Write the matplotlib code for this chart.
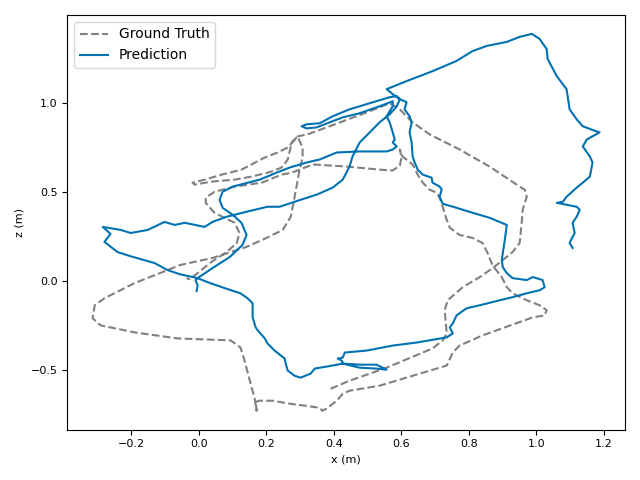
import matplotlib
matplotlib.use('Agg')
import matplotlib.pyplot as plt
import numpy as np

# ground truth trajectory (x, z) in metres
gt_x = [0.391, 0.447, 0.557, 0.693, 0.723, 0.735, 0.729, 0.738, 0.782, 0.833,
        0.871, 0.901, 0.930, 0.951, 0.957, 0.960, 0.972, 0.966, 0.951, 0.862,
        0.773, 0.684, 0.634, 0.596, 0.566, 0.498, 0.388, 0.323, 0.293, 0.264,
        0.234, 0.196, 0.127, 0.068, 0.018, -0.018, -0.012, 0.039, 0.107, 0.157,
        0.216, 0.246, 0.264, 0.276, 0.293, 0.308, 0.308, 0.299, 0.290, 0.284,
        0.273, 0.249, 0.201, 0.142, 0.041, -0.056, -0.092, -0.190, -0.279, -0.308,
        -0.314, -0.290, -0.190, -0.062, 0.095, 0.124, 0.136, 0.154, 0.166, 0.172,
        0.169, 0.181, 0.219, 0.270, 0.320, 0.359, 0.367, 0.382, 0.409, 0.427,
        0.447, 0.536, 0.735, 0.753, 0.773, 0.841, 0.990, 1.025, 1.031, 1.010,
        0.972, 0.930, 0.913, 0.898, 0.877, 0.868, 0.856, 0.841, 0.812, 0.773,
        0.744, 0.735, 0.723, 0.714, 0.705, 0.684, 0.664, 0.649, 0.634, 0.604,
        0.596, 0.601, 0.596, 0.575, 0.536, 0.441, 0.338, 0.276, 0.246, 0.187,
        0.107, 0.047, 0.021, 0.021, 0.047, 0.107, 0.121, 0.113, 0.083, 0.033,
        -0.003, -0.027, -0.036]
gt_z = [-0.603, -0.558, -0.485, -0.377, -0.332, -0.293, -0.163, -0.107, -0.034, 0.023,
        0.073, 0.118, 0.163, 0.214, 0.327, 0.400, 0.473, 0.513, 0.530, 0.642,
        0.738, 0.823, 0.890, 0.963, 0.997, 0.946, 0.868, 0.823, 0.811, 0.749,
        0.721, 0.693, 0.625, 0.597, 0.569, 0.552, 0.541, 0.558, 0.569, 0.586,
        0.614, 0.637, 0.682, 0.777, 0.811, 0.749, 0.693, 0.625, 0.530, 0.468,
        0.361, 0.287, 0.242, 0.192, 0.130, 0.090, 0.062, -0.011, -0.096, -0.135,
        -0.208, -0.248, -0.287, -0.321, -0.332, -0.372, -0.445, -0.575, -0.659, -0.727,
        -0.676, -0.670, -0.670, -0.687, -0.699, -0.710, -0.727, -0.710, -0.670, -0.631,
        -0.614, -0.586, -0.473, -0.400, -0.361, -0.304, -0.203, -0.192, -0.163, -0.135,
        -0.107, -0.068, -0.034, 0.023, 0.073, 0.101, 0.158, 0.214, 0.242, 0.259,
        0.299, 0.344, 0.417, 0.468, 0.496, 0.513, 0.552, 0.597, 0.654, 0.699,
        0.738, 0.693, 0.648, 0.620, 0.625, 0.642, 0.654, 0.608, 0.597, 0.552,
        0.530, 0.501, 0.468, 0.439, 0.383, 0.327, 0.270, 0.214, 0.163, 0.101,
        0.045, 0.011, 0.017]

# predicted trajectory (x, z) in metres
pred_x = [-0.006, -0.003, -0.009, -0.003, 0.041, 0.092, 0.130, 0.142, 0.127, 0.101,
          0.071, 0.062, 0.071, 0.101, 0.181, 0.231, 0.270, 0.320, 0.359, 0.409,
          0.477, 0.536, 0.557, 0.575, 0.587, 0.575, 0.581, 0.575, 0.566, 0.557,
          0.575, 0.575, 0.536, 0.477, 0.427, 0.388, 0.350, 0.320, 0.305, 0.320,
          0.359, 0.397, 0.447, 0.498, 0.536, 0.566, 0.587, 0.596, 0.616, 0.610,
          0.625, 0.631, 0.625, 0.631, 0.634, 0.640, 0.649, 0.664, 0.690, 0.693,
          0.714, 0.720, 0.714, 0.723, 0.764, 0.812, 0.862, 0.913, 0.907, 0.898,
          0.901, 0.913, 0.930, 0.972, 0.990, 1.019, 1.025, 1.010, 0.972, 0.930,
          0.892, 0.833, 0.794, 0.764, 0.753, 0.744, 0.753, 0.735, 0.646, 0.575,
          0.498, 0.433, 0.427, 0.412, 0.424, 0.427, 0.477, 0.527, 0.557, 0.527,
          0.477, 0.427, 0.397, 0.344, 0.332, 0.302, 0.284, 0.264, 0.258, 0.255,
          0.225, 0.204, 0.196, 0.175, 0.169, 0.160, 0.160, 0.145, 0.124, 0.077,
          0.027, -0.003, -0.056, -0.092, -0.130, -0.204, -0.240, -0.279, -0.261, -0.284,
          -0.267, -0.231, -0.201, -0.151, -0.101, -0.071, -0.041, 0.018, 0.041, 0.083,
          0.142, 0.204, 0.240, 0.302, 0.350, 0.397, 0.427, 0.447, 0.456, 0.477,
          0.507, 0.536, 0.566, 0.587, 0.596, 0.575, 0.557, 0.616, 0.693, 0.764,
          0.812, 0.853, 0.913, 0.951, 0.987, 1.010, 1.031, 1.034, 1.061, 1.090,
          1.099, 1.120, 1.138, 1.179, 1.188, 1.150, 1.138, 1.159, 1.167, 1.159,
          1.138, 1.120, 1.090, 1.079, 1.061, 1.090, 1.120, 1.129, 1.120, 1.108,
          1.114, 1.099, 1.108]
pred_z = [-0.056, -0.023, 0.006, 0.017, 0.073, 0.135, 0.203, 0.259, 0.327, 0.372,
          0.411, 0.456, 0.501, 0.530, 0.569, 0.608, 0.637, 0.665, 0.682, 0.721,
          0.727, 0.727, 0.727, 0.738, 0.755, 0.777, 0.794, 0.834, 0.890, 0.924,
          0.980, 1.008, 0.980, 0.941, 0.918, 0.890, 0.862, 0.856, 0.868, 0.879,
          0.885, 0.924, 0.963, 0.992, 1.014, 1.031, 1.037, 1.020, 1.003, 0.963,
          0.924, 0.890, 0.834, 0.777, 0.699, 0.665, 0.625, 0.597, 0.580, 0.552,
          0.530, 0.513, 0.473, 0.434, 0.411, 0.383, 0.355, 0.315, 0.231, 0.118,
          0.079, 0.045, 0.017, 0.006, 0.023, 0.006, -0.034, -0.051, -0.068, -0.090,
          -0.107, -0.135, -0.152, -0.192, -0.237, -0.259, -0.293, -0.315, -0.344, -0.361,
          -0.389, -0.400, -0.428, -0.434, -0.445, -0.462, -0.485, -0.490, -0.496, -0.468,
          -0.468, -0.462, -0.473, -0.490, -0.518, -0.541, -0.530, -0.501, -0.462, -0.434,
          -0.389, -0.349, -0.321, -0.276, -0.259, -0.203, -0.124, -0.096, -0.068, -0.039,
          -0.006, 0.017, 0.039, 0.062, 0.101, 0.141, 0.163, 0.220, 0.265, 0.304,
          0.299, 0.287, 0.270, 0.287, 0.332, 0.315, 0.327, 0.304, 0.332, 0.361,
          0.389, 0.417, 0.417, 0.456, 0.485, 0.524, 0.569, 0.642, 0.699, 0.777,
          0.834, 0.890, 0.935, 0.980, 1.020, 1.048, 1.076, 1.121, 1.177, 1.234,
          1.290, 1.318, 1.341, 1.369, 1.386, 1.358, 1.301, 1.245, 1.149, 1.076,
          0.963, 0.907, 0.868, 0.839, 0.834, 0.794, 0.755, 0.699, 0.665, 0.586,
          0.552, 0.524, 0.473, 0.445, 0.439, 0.428, 0.417, 0.400, 0.361, 0.327,
          0.270, 0.214, 0.186]

fig, ax = plt.subplots(figsize=(6.4, 4.8), dpi=100)
ax.plot(gt_x, gt_z, '--', color='gray', linewidth=1.5, label='Ground Truth')
ax.plot(pred_x, pred_z, '-', color='#0072B2', linewidth=1.5, label='Prediction')
ax.set_xlabel('x (m)', fontsize=8)
ax.set_ylabel('z (m)', fontsize=8)
ax.tick_params(labelsize=8)
ax.legend(loc='upper left', fontsize=10)
plt.tight_layout()
plt.savefig('out.png')
